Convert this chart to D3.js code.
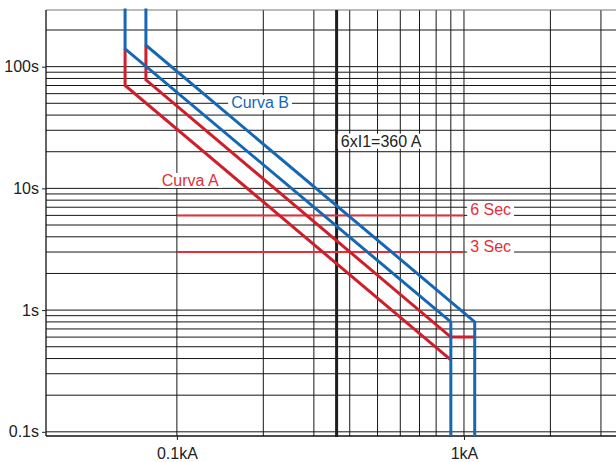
<!DOCTYPE html>
<html>
<head>
<meta charset="utf-8">
<script src="https://cdn.jsdelivr.net/npm/d3@7"></script>
<style>
    body { margin: 0; background: #fff; }
    text { font-family: 'Liberation Sans', Arial, sans-serif; }
</style>
</head>
<body>
<div id="chart"></div>
<script>
// current axis (kA), time axis (s)
var currentDomain   = [0.035, 3.385];
var timeDomain      = [0.0924, 292];

var xTickValues     = [0.1, 1];
var xTickLabels     = ["0.1kA", "1kA"];
var yTickValues     = [0.1, 1, 10, 100];
var yTickLabels     = ["0.1s", "1s", "10s", "100s"];

var xGridValues     = [0.1, 0.2, 0.3, 0.4, 0.5, 0.6, 0.7, 0.8, 0.9, 1, 2, 3];
var yGridValues     = [0.1, 0.2, 0.3, 0.4, 0.5, 0.6, 0.7, 0.8, 0.9,
                       1, 2, 3, 4, 5, 6, 7, 8, 9,
                       10, 20, 30, 40, 50, 60, 70, 80, 90,
                       100, 200];

// trip curves [current kA, time s]
var curveA_left     = [[0.066, 140], [0.066, 70], [0.9, 0.39]];
var curveA_right    = [[0.078, 150], [0.078, 78], [0.9, 0.6], [1.09, 0.6]];
var curveB_left     = [[0.066, 300], [0.066, 140], [0.9, 0.8], [0.9, 0.092]];
var curveB_right    = [[0.078, 300], [0.078, 150], [1.09, 0.8], [1.09, 0.092]];

var limitCurrent    = 0.36;
var limitLabel      = "6xI1=360 A";

var timeMarks       = [6, 3];
var timeMarkLabels  = ["6 Sec", "3 Sec"];
var timeMarkSpan    = [0.1, 1];

var curveLabels     = ["Curva A", "Curva B"];
var curveLabelPos   = [[0.0886, 10.46], [0.1545, 45.7]];
var limitLabelPos   = [0.3724, 22.0];
var timeLabelI      = 1.051;

var chart_width     = 616;
var chart_height    = 462;
var pad_left = 46, pad_right = 616, pad_top = 10, pad_bottom = 436;

var red       = '#cf1f2a';
var redLight  = '#e2303a';
var blue      = '#1668b4';
var gridColor = '#161616';

var svg = d3.select("#chart")
    .append("svg")
    .attr("width", chart_width)
    .attr("height", chart_height);

var x_scale = d3.scaleLog().domain(currentDomain).range([pad_left, pad_right]);
var y_scale = d3.scaleLog().domain(timeDomain).range([pad_bottom, pad_top]);

// grid
svg.append('g').selectAll('line')
    .data(yGridValues)
    .enter().append('line')
    .attr('x1', pad_left).attr('x2', pad_right)
    .attr('y1', d => y_scale(d)).attr('y2', d => y_scale(d))
    .attr('stroke', gridColor).attr('stroke-width', 1);

svg.append('g').selectAll('line')
    .data(xGridValues)
    .enter().append('line')
    .attr('x1', d => x_scale(d)).attr('x2', d => x_scale(d))
    .attr('y1', pad_top).attr('y2', pad_bottom)
    .attr('stroke', gridColor).attr('stroke-width', 1);

// frame (top, bottom, left)
svg.append('line').attr('x1', pad_left).attr('x2', pad_right)
    .attr('y1', y_scale(timeDomain[1])).attr('y2', y_scale(timeDomain[1]))
    .attr('stroke', '#777').attr('stroke-width', 1);
svg.append('line').attr('x1', pad_left).attr('x2', pad_right)
    .attr('y1', y_scale(timeDomain[0])).attr('y2', y_scale(timeDomain[0]))
    .attr('stroke', '#111').attr('stroke-width', 1.3);
svg.append('line').attr('x1', x_scale(currentDomain[0])).attr('x2', x_scale(currentDomain[0]))
    .attr('y1', pad_top).attr('y2', pad_bottom)
    .attr('stroke', '#111').attr('stroke-width', 1.3);

// axes
var y_axis = d3.axisLeft(y_scale)
    .tickValues(yTickValues)
    .tickFormat((d, i) => yTickLabels[i])
    .tickSize(4)
    .tickPadding(3);

svg.append('g')
    .attr('transform', 'translate(' + pad_left + ',0)')
    .call(y_axis)
    .call(g => g.select('.domain').remove())
    .call(g => g.selectAll('text')
        .attr('fill', '#222')
        .style('font-size', '16px')
        .style('font-family', "'Liberation Sans', Arial, sans-serif"))
    .call(g => g.selectAll('line').attr('stroke', '#222'));

var x_axis = d3.axisBottom(x_scale)
    .tickValues(xTickValues)
    .tickFormat((d, i) => xTickLabels[i])
    .tickSize(4)
    .tickPadding(8);

svg.append('g')
    .attr('transform', 'translate(0,' + pad_bottom + ')')
    .call(x_axis)
    .call(g => g.select('.domain').remove())
    .call(g => g.selectAll('text')
        .attr('fill', '#222')
        .style('font-size', '16px')
        .style('font-family', "'Liberation Sans', Arial, sans-serif"))
    .call(g => g.selectAll('line').attr('stroke', '#222'));

// labels with white backing
function boxedText(x, y, str, color) {
    var g = svg.append('g');
    var t = g.append('text')
        .attr('x', x).attr('y', y)
        .attr('fill', color)
        .style('font-size', '16px')
        .text(str);
    var b = t.node().getBBox();
    g.insert('rect', 'text')
        .attr('x', b.x - 3).attr('y', b.y + 1)
        .attr('width', b.width + 6).attr('height', b.height - 2)
        .attr('fill', '#fff');
    return g;
}

// 6xI1 vertical line
svg.append('line')
    .attr('x1', x_scale(limitCurrent)).attr('x2', x_scale(limitCurrent))
    .attr('y1', pad_top).attr('y2', pad_bottom + 1)
    .attr('stroke', '#1e1e1e').attr('stroke-width', 3);

boxedText(x_scale(limitLabelPos[0]), y_scale(limitLabelPos[1]), limitLabel, '#222');

// time marks
svg.append('g').selectAll('line')
    .data(timeMarks)
    .enter().append('line')
    .attr('x1', x_scale(timeMarkSpan[0])).attr('x2', x_scale(timeMarkSpan[1]))
    .attr('y1', d => y_scale(d)).attr('y2', d => y_scale(d))
    .attr('stroke', redLight).attr('stroke-width', 2);

timeMarks.forEach(function(d, i) {
    boxedText(x_scale(timeLabelI), y_scale(d), timeMarkLabels[i], redLight);
});

// curves
var line = d3.line()
    .x(d => x_scale(d[0]))
    .y(d => y_scale(d[1]));

[curveA_left, curveA_right].forEach(function(c) {
    svg.append('path').attr('d', line(c))
        .attr('fill', 'none').attr('stroke', red).attr('stroke-width', 3)
        .attr('stroke-linejoin', 'miter');
});
[curveB_left, curveB_right].forEach(function(c) {
    svg.append('path').attr('d', line(c))
        .attr('fill', 'none').attr('stroke', blue).attr('stroke-width', 3)
        .attr('stroke-linejoin', 'miter');
});

boxedText(x_scale(curveLabelPos[0][0]), y_scale(curveLabelPos[0][1]), curveLabels[0], redLight);
boxedText(x_scale(curveLabelPos[1][0]), y_scale(curveLabelPos[1][1]), curveLabels[1], blue);
</script>
</body>
</html>
